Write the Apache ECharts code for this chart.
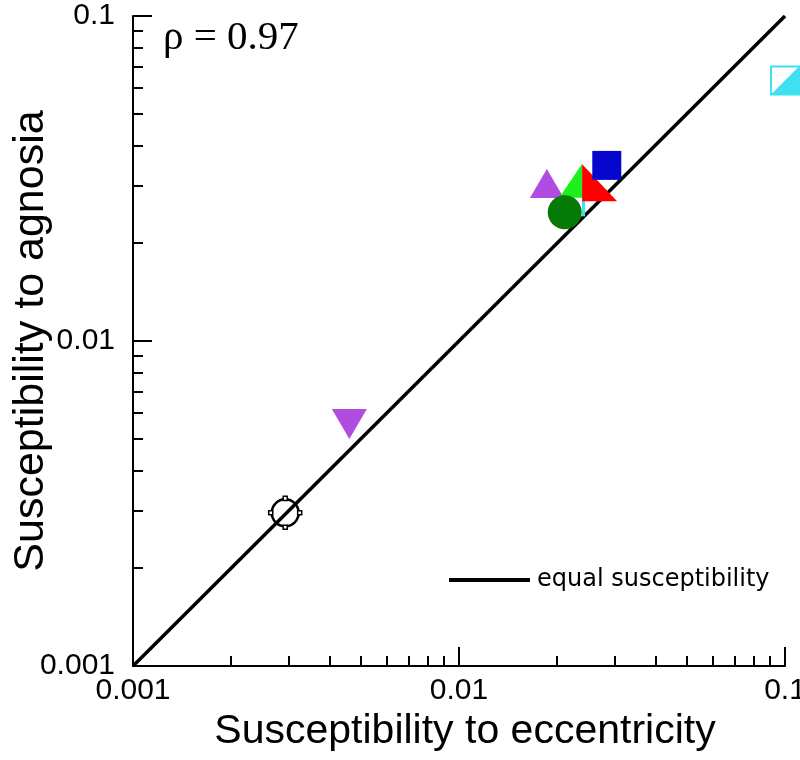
<!DOCTYPE html>
<html>
<head>
<meta charset="utf-8">
<script src="https://cdn.jsdelivr.net/npm/echarts@6/dist/echarts.min.js"></script>
<style>
html,body{margin:0;padding:0;background:#fff;}
#chart{width:800px;height:760px;}
</style>
</head>
<body>
<div id="chart"></div>
<script>
// ---- data ----
const tickValues = [0.001, 0.01, 0.1];
const tickLabels = ['0.001', '0.01', '0.1'];
const minorTickValues = [0.002,0.003,0.004,0.005,0.006,0.007,0.008,0.009,
                         0.02,0.03,0.04,0.05,0.06,0.07,0.08,0.09];
const equalLine = [[0.001, 0.001], [0.1, 0.1]];
const purpleDown = [[0.00461, 0.00555]];
const openCircle = [[0.00293, 0.00296]];
const purpleUp = [[0.0186, 0.0305]];
const darkGreenCircle = [[0.0211, 0.0249]];
const greenHalfTri = [[0.0220, 0.0311]];
const redHalfTri = [[0.0270, 0.0307]];
const blueSquare = [[0.0284, 0.0347]];
const cyanEdge = [[0.0241, 0.0268]];
const cyanHalfSquare = [[0.1, 0.0633]];
const rhoText = 'ρ = 0.97';

// ---- chart ----
const chart = echarts.init(document.getElementById('chart'), null, {renderer: 'canvas'});
const labelFmt = v => {
  const e = Math.round(Math.log10(v));
  const i = tickValues.findIndex(t => Math.round(Math.log10(t)) === e);
  return i >= 0 ? tickLabels[i] : '';
};
const sansFont = 'Liberation Sans';
const minorExp = minorTickValues.map(v => Math.log10(v));

function scatter(name, data, symbol, size, style, z, rotate) {
  return {
    type: 'scatter', name: name, data: data, symbol: symbol, symbolSize: size,
    symbolRotate: rotate || 0, itemStyle: Object.assign({opacity: 1}, style), z: z, clip: false,
    xAxisIndex: 0, yAxisIndex: 0, silent: true
  };
}

const option = {
  backgroundColor: '#fff',
  animation: false,
  grid: {left: 133, right: 15, top: 16, bottom: 94, containLabel: false, outerBoundsMode: 'none'},
  legend: {
    data: [{name: 'equal susceptibility', icon: 'rect'}],
    left: 449, top: 568, itemWidth: 81, itemHeight: 4, itemGap: 0, padding: 0,
    textStyle: {fontSize: 24, fontFamily: 'DejaVu Sans', color: '#000', padding: [0, 0, 0, 2]}
  },
  xAxis: [
    {
      type: 'log', logBase: 10, min: 0.001, max: 0.1, position: 'bottom',
      axisLine: {show: true, lineStyle: {color: '#000', width: 2}},
      axisTick: {show: true, inside: true, length: 19, lineStyle: {color: '#000', width: 2}},
      axisLabel: {formatter: labelFmt, fontSize: 30, fontFamily: sansFont, color: '#000', margin: 10},
      splitLine: {show: false}, minorTick: {show: false},
      name: 'Susceptibility to eccentricity', nameLocation: 'middle', nameGap: 45, nameMoveOverlap: false,
      nameTextStyle: {fontSize: 41, fontFamily: sansFont, color: '#000', padding: [0, 0, 0, 12]}
    },
    {
      type: 'value', min: -3, max: -1, position: 'bottom',
      axisLine: {show: false, onZero: false},
      axisTick: {show: true, inside: true, length: 10, customValues: minorExp, lineStyle: {color: '#000', width: 2}},
      axisLabel: {show: false}, splitLine: {show: false}
    }
  ],
  yAxis: [
    {
      type: 'log', logBase: 10, min: 0.001, max: 0.1, position: 'left',
      axisLine: {show: true, lineStyle: {color: '#000', width: 2}},
      axisTick: {show: true, inside: true, length: 19, lineStyle: {color: '#000', width: 2}},
      axisLabel: {formatter: labelFmt, fontSize: 30, fontFamily: sansFont, color: '#000', margin: 18},
      splitLine: {show: false}, minorTick: {show: false},
      name: 'Susceptibility to agnosia', nameLocation: 'middle', nameGap: 80, nameMoveOverlap: false,
      nameTextStyle: {fontSize: 43, fontFamily: sansFont, color: '#000'}
    },
    {
      type: 'value', min: -3, max: -1, position: 'left',
      axisLine: {show: false, onZero: false},
      axisTick: {show: true, inside: true, length: 10, customValues: minorExp, lineStyle: {color: '#000', width: 2}},
      axisLabel: {show: false}, splitLine: {show: false}
    }
  ],
  graphic: [{
    type: 'text', left: 163, top: 18,
    style: {text: rhoText, font: '41px "Liberation Serif"', fill: '#000'}
  }],
  series: [
    {
      type: 'line', name: 'equal susceptibility', data: equalLine,
      xAxisIndex: 0, yAxisIndex: 0, symbol: 'none', showSymbol: false,
      lineStyle: {color: '#000', width: 3.5}, itemStyle: {color: '#000'}, z: 2, silent: true
    },
    scatter('open', openCircle, 'circle', 27, {color: 'rgba(255,255,255,0)', borderColor: '#000', borderWidth: 2.5}, 3),
    scatter('openDots', openCircle,
      'path://M4.3,-0.7h1.4v1.4h-1.4Z M9.3,4.3h1.4v1.4h-1.4Z M4.3,9.3h1.4v1.4h-1.4Z M-0.7,4.3h1.4v1.4h-1.4Z',
      33, {color: '#fff', borderColor: '#000', borderWidth: 1.5}, 4),
    scatter('pdown', purpleDown, 'triangle', [35, 30], {color: '#b04de0'}, 3, 180),
    scatter('cyanEdge', cyanEdge, 'rect', [3, 29], {color: '#3ee0f2'}, 3),
    scatter('pup', purpleUp, 'triangle', [34, 29], {color: '#b04de0'}, 4),
    scatter('ghalf', greenHalfTri, 'path://M1,0 L1,1 L0,1 Z', [23, 34], {color: '#1ef01e'}, 5),
    scatter('dgreen', darkGreenCircle, 'circle', 34, {color: '#067a06'}, 6),
    scatter('rhalf', redHalfTri, 'path://M0,0 L1,1 L0,1 Z', [35, 37], {color: '#ff0000'}, 6),
    scatter('blue', blueSquare, 'rect', 29, {color: '#0606cc'}, 6),
    scatter('cyanBox', cyanHalfSquare, 'rect', 28, {color: '#fff', borderColor: '#3ee0f2', borderWidth: 2}, 6),
    scatter('cyanTri', cyanHalfSquare, 'path://M1,0 L1,1 L0,1 Z', 28, {color: '#3ee0f2'}, 7)
  ]
};
chart.setOption(option);
</script>
</body>
</html>
